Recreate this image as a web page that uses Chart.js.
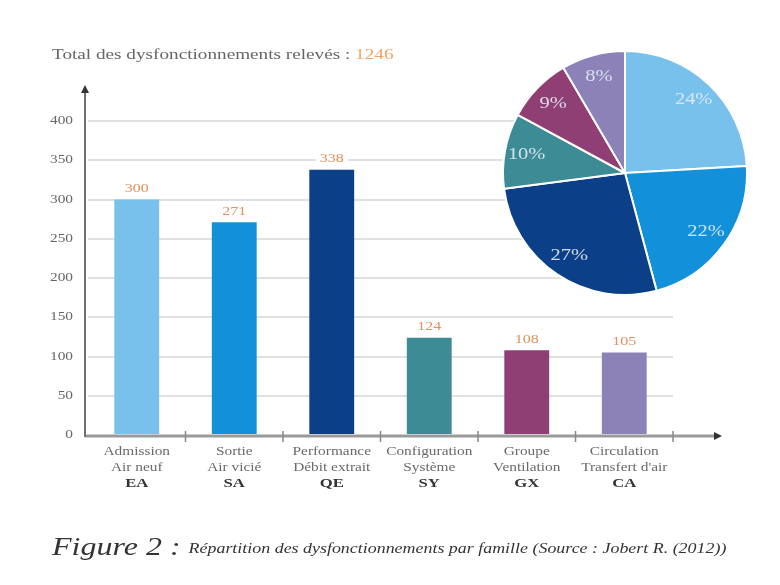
<!DOCTYPE html>
<html>
<head>
<meta charset="utf-8">
<script src="https://cdn.jsdelivr.net/npm/chart.js@4.4.1/dist/chart.umd.min.js"></script>
<style>
  body { margin: 0; background: #fff; }
  #wrap { position: relative; width: 780px; height: 585px; }
  #bars { position: absolute; left: 0; top: 0; }
  #pie { position: absolute; left: 500px; top: 48px; }
</style>
</head>
<body>
<div id="wrap">
  <canvas id="bars" width="780" height="585"></canvas>
  <canvas id="pie" width="250" height="250"></canvas>
</div>
<script>
// données
const codes = ["EA", "SA", "QE", "SY", "GX", "CA"];
const line1 = ["Admission", "Sortie", "Performance", "Configuration", "Groupe", "Circulation"];
const line2 = ["Air neuf", "Air vicié", "Débit extrait", "Système", "Ventilation", "Transfert d'air"];
const values = [300, 271, 338, 124, 108, 105];
const pieLabels = ["24%", "22%", "27%", "10%", "9%", "8%"];
const colors = ["#79c1ed", "#1290d9", "#0b3f88", "#3d8b95", "#8f3f74", "#8c82b8"];
const total = 1246;
const yTicks = [0, 50, 100, 150, 200, 250, 300, 350, 400];

const serif = "'Liberation Serif', 'DejaVu Serif', serif";
const SX = 1.28; // le texte de la figure d'origine est étiré en largeur

function text(ctx, txt, x, y, align) {
  ctx.save();
  ctx.translate(x, y);
  ctx.scale(SX, 1);
  ctx.textAlign = align || "center";
  ctx.fillText(txt, 0, 0);
  ctx.restore();
}

// axes avec flèches, graduations, libellés, titre et légende de figure
const decor = {
  id: "decor",
  afterDatasetsDraw(chart) {
    const ctx = chart.ctx;
    const a = chart.chartArea;
    const xs = chart.scales.x;
    const ys = chart.scales.y;
    const meta = chart.getDatasetMeta(0);
    const ax = a.left - 3;
    ctx.save();
    ctx.textBaseline = "middle";

    // valeurs au-dessus des barres
    ctx.font = "12.5px " + serif;
    meta.data.forEach((bar, i) => {
      const txt = String(values[i]);
      const w = ctx.measureText(txt).width * SX + 8;
      ctx.fillStyle = "#fff";
      ctx.fillRect(bar.x - w / 2, bar.y - 18, w, 14);
      ctx.fillStyle = "#e0915e";
      text(ctx, txt, bar.x, bar.y - 11);
    });

    // graduations de l'axe Y
    ctx.font = "12px " + serif;
    ctx.fillStyle = "#666";
    yTicks.forEach(v => text(ctx, String(v), 73, ys.getPixelForValue(v), "right"));

    // axe X
    const y0 = a.bottom + 1;
    ctx.strokeStyle = "#9a9a9a";
    ctx.lineWidth = 3;
    ctx.beginPath();
    ctx.moveTo(ax, y0);
    ctx.lineTo(716, y0);
    ctx.stroke();
    ctx.fillStyle = "#333";
    ctx.beginPath();
    ctx.moveTo(722, y0);
    ctx.lineTo(714, y0 - 4);
    ctx.lineTo(714, y0 + 4);
    ctx.closePath();
    ctx.fill();

    // petites graduations entre catégories
    const step = (a.right - a.left) / codes.length;
    ctx.strokeStyle = "#888";
    ctx.lineWidth = 1.5;
    for (let i = 1; i <= codes.length; i++) {
      const x = a.left + step * i;
      ctx.beginPath();
      ctx.moveTo(x, y0 - 5);
      ctx.lineTo(x, y0 + 6);
      ctx.stroke();
    }

    // axe Y
    ctx.strokeStyle = "#707070";
    ctx.lineWidth = 2;
    ctx.beginPath();
    ctx.moveTo(ax, y0 + 1);
    ctx.lineTo(ax, a.top - 30);
    ctx.stroke();
    ctx.fillStyle = "#333";
    ctx.beginPath();
    ctx.moveTo(ax, a.top - 36);
    ctx.lineTo(ax - 4, a.top - 28);
    ctx.lineTo(ax + 4, a.top - 28);
    ctx.closePath();
    ctx.fill();

    // libellés des familles
    codes.forEach((c, i) => {
      const x = xs.getPixelForValue(i);
      ctx.fillStyle = "#6a6a6a";
      ctx.font = "12px " + serif;
      text(ctx, line1[i], x, 452);
      text(ctx, line2[i], x, 468);
      ctx.fillStyle = "#333";
      ctx.font = "bold 13px " + serif;
      text(ctx, c, x, 484);
    });

    // titre
    ctx.font = "15px " + serif;
    ctx.fillStyle = "#666";
    const t = "Total des dysfonctionnements relevés : ";
    text(ctx, t, 52, 55, "left");
    ctx.fillStyle = "#f0a565";
    text(ctx, String(total), 52 + ctx.measureText(t).width * SX, 55, "left");

    // légende de la figure
    ctx.fillStyle = "#333";
    ctx.font = "italic 25px " + serif;
    const f = "Figure 2 : ";
    text(ctx, f, 52, 548, "left");
    const fw = ctx.measureText(f).width * SX;
    ctx.font = "italic 14px " + serif;
    text(ctx, "Répartition des dysfonctionnements par famille (Source : Jobert R. (2012))", 52 + fw, 549, "left");

    ctx.restore();
  }
};

new Chart(document.getElementById("bars"), {
  type: "bar",
  data: {
    labels: codes,
    datasets: [{
      data: values,
      backgroundColor: colors,
      categoryPercentage: 1,
      barPercentage: 0.46
    }]
  },
  options: {
    responsive: false,
    animation: false,
    layout: { padding: { top: 121, right: 107, bottom: 150, left: 0 } },
    plugins: { legend: { display: false }, tooltip: { enabled: false } },
    scales: {
      x: { display: false },
      y: {
        min: 0,
        max: 400,
        afterBuildTicks: s => { s.ticks = yTicks.map(v => ({ value: v })); },
        afterFit: s => { s.width = 88; },
        ticks: { display: false },
        grid: { color: ctx => ctx.tick.value === 0 ? "rgba(0,0,0,0)" : "#e0e0e0", lineWidth: 2, drawTicks: false },
        border: { display: false }
      }
    }
  },
  plugins: [decor]
});

// pourcentages sur les secteurs
const pieText = {
  id: "pieText",
  afterDatasetsDraw(chart) {
    const ctx = chart.ctx;
    ctx.save();
    ctx.font = "16px " + serif;
    ctx.fillStyle = "rgba(225,235,246,0.9)";
    ctx.textBaseline = "middle";
    chart.getDatasetMeta(0).data.forEach((arc, i) => {
      const mid = (arc.startAngle + arc.endAngle) / 2;
      const r = arc.outerRadius * 0.82;
      text(ctx, pieLabels[i], arc.x + Math.cos(mid) * r, arc.y + Math.sin(mid) * r);
    });
    ctx.restore();
  }
};

new Chart(document.getElementById("pie"), {
  type: "pie",
  data: {
    labels: codes,
    datasets: [{
      data: values,
      backgroundColor: colors,
      borderColor: "#fff",
      borderWidth: 2
    }]
  },
  options: {
    responsive: false,
    animation: false,
    layout: { padding: 2 },
    plugins: { legend: { display: false }, tooltip: { enabled: false } }
  },
  plugins: [pieText]
});
</script>
</body>
</html>
